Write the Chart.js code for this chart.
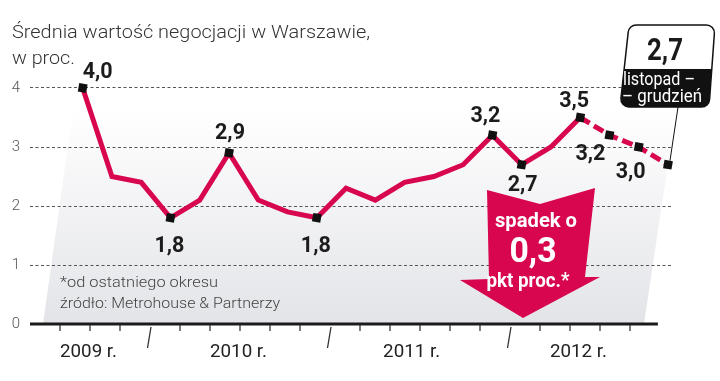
<!DOCTYPE html>
<html><head><meta charset="utf-8">
<script src="https://cdn.jsdelivr.net/npm/chart.js@4/dist/chart.umd.min.js"></script>
<style>html,body{margin:0;padding:0;background:#fff}#wrap{width:720px;height:381px;position:relative}</style>
</head><body><div id="wrap"><canvas id="c"></canvas></div>
<script>
// ---- data ----
const periods = ['VII–VIII 2009','IX–X 2009','XI–XII 2009',
  'I–II 2010','III–IV 2010','V–VI 2010','VII–VIII 2010','IX–X 2010','XI–XII 2010',
  'I–II 2011','III–IV 2011','V–VI 2011','VII–VIII 2011','IX–X 2011','XI–XII 2011',
  'I–II 2012','III–IV 2012','V–VI 2012','VII–VIII 2012','IX–X 2012','XI–XII 2012'];
const values = [4.0,2.5,2.4,1.8,2.1,2.9,2.1,1.9,1.8,2.3,2.1,2.4,2.5,2.7,3.2,2.7,3.0,3.5,3.2,3.0,2.7];
const yearLabels = ['2009 r.','2010 r.','2011 r.','2012 r.'];
const yTickValues = [0,1,2,3,4];
const markedIdx = [0,3,5,8,14,15,17,18,19,20];
const dashedFrom = 17;
const lastPeriodText = ['listopad –','– grudzień'];
const arrowText = ['spadek o','0,3','pkt proc.*'];
const titleLines = ['Średnia wartość negocjacji w Warszawie,','w proc.'];
const noteLines = ['*od ostatniego okresu','źródło: Metrohouse & Partnerzy'];

// ---- layout / style ----
const RED = '#d8064f';
const LABEL_OFFSETS = {0:[15,-10],3:[-1,34],5:[1,-14],8:[-1,34],14:[-7,-13],15:[1,26],17:[-6,-11],18:[-19,25],19:[-8,31]};
const YEAR_LEFT_K = [0,5,10.77,16.33]; // left edge of year labels in bimonthly-tick units
const YEAR_TICK_K = [3,9,15];

function txt(ctx,s,x,y,font,color,align,w){
  ctx.save();ctx.font=font;ctx.fillStyle=color;ctx.textBaseline='alphabetic';ctx.textAlign='left';
  const mw=ctx.measureText(s).width;const sx=w?w/mw:1;
  const x0=align==='center'?x-mw*sx/2:align==='right'?x-mw*sx:x;
  ctx.translate(x0,y);ctx.scale(sx,1);ctx.fillText(s,0,0);ctx.restore();
}
function roundPoly(ctx,pts,r){
  ctx.beginPath();const n=pts.length;
  ctx.moveTo((pts[0][0]+pts[1][0])/2,(pts[0][1]+pts[1][1])/2);
  for(let i=1;i<=n;i++){const p=pts[i%n],q=pts[(i+1)%n];ctx.arcTo(p[0],p[1],q[0],q[1],r);}
  ctx.closePath();
}

const decor = {
  id:'decor',
  beforeDraw(chart){
    const ctx=chart.ctx, y=chart.scales.y;
    ctx.save();
    ctx.fillStyle='#fff';ctx.fillRect(0,0,chart.width,chart.height);
    const yb=y.getPixelForValue(0), yt=110, s=0.15;
    const g=ctx.createLinearGradient(0,yb,0,yt);
    g.addColorStop(0,'#e3e4e8');g.addColorStop(1,'rgba(255,255,255,1)');
    ctx.fillStyle=g;ctx.beginPath();
    ctx.moveTo(43,yb);ctx.lineTo(644,yb);ctx.lineTo(644+(yb-yt)*s,yt);ctx.lineTo(43+(yb-yt)*0.14,yt);ctx.closePath();ctx.fill();
    ctx.restore();
  },
  beforeDatasetsDraw(chart){
    const ctx=chart.ctx, y=chart.scales.y, m=chart.scales.m, a=chart.chartArea;
    txt(ctx,titleLines[0],12,38,'300 19px Roboto','#333','left',358);
    txt(ctx,titleLines[1],12,64,'300 19px Roboto','#333','left',63);
    yTickValues.forEach(v=>{
      ctx.save();ctx.font='300 15px Roboto';ctx.fillStyle='#555';ctx.textAlign='center';ctx.textBaseline='middle';
      ctx.fillText(String(v),16,y.getPixelForValue(v));ctx.restore();
    });
    txt(ctx,noteLines[0],60,287,'300 15px Roboto','#444','left',158);
    txt(ctx,noteLines[1],60,308,'300 15px Roboto','#444','left',220);
    const y0=y.getPixelForValue(0);
    ctx.save();
    ctx.strokeStyle='#1a1a1a';ctx.lineWidth=3;ctx.beginPath();ctx.moveTo(a.left,y0);ctx.lineTo(m.getPixelForValue(19.93),y0);ctx.stroke();
    ctx.lineWidth=1.3;ctx.strokeStyle='#333';
    for(let k=0;k<20;k++){
      const x=m.getPixelForValue(k);ctx.beginPath();
      if(YEAR_TICK_K.includes(k)){ctx.moveTo(x+1,y0+3);ctx.lineTo(x-2.5,y0+24);}
      else{ctx.moveTo(x,y0+1);ctx.lineTo(x,y0+7);}
      ctx.stroke();
    }
    ctx.restore();
    yearLabels.forEach((t,i)=>txt(ctx,t,m.getPixelForValue(YEAR_LEFT_K[i]),357,'400 19px Roboto','#222','left',57));
  },
  afterDatasetsDraw(chart){
    const ctx=chart.ctx, meta=chart.getDatasetMeta(0);
    ctx.save();ctx.fillStyle=RED;ctx.beginPath();
    [[487,190],[540,204],[595,188],[585,277],[600,277],[523,318],[460,280],[489,279]].forEach((p,i)=>i?ctx.lineTo(p[0],p[1]):ctx.moveTo(p[0],p[1]));
    ctx.closePath();ctx.fill();ctx.restore();
    txt(ctx,arrowText[0],536,227,'700 20px Roboto','#fff','center',82);
    txt(ctx,arrowText[1],533,262,'700 35px Roboto','#fff','center',47);
    txt(ctx,arrowText[2],528,287,'700 20px Roboto','#fff','center',83);
    Object.keys(LABEL_OFFSETS).forEach(k=>{
      const i=+k, el=meta.data[i], off=LABEL_OFFSETS[k];
      txt(ctx,values[i].toFixed(1).replace('.',','),el.x+off[0],el.y+off[1],'700 22px Roboto','#1c1c1c','center',30);
    });
    const last=meta.data[values.length-1];
    ctx.save();ctx.strokeStyle='#111';ctx.lineWidth=1;ctx.beginPath();ctx.moveTo(678,107);ctx.lineTo(last.x+2,last.y-4);ctx.stroke();
    const box=[[629,25],[715,25],[709,107],[620,107]];
    roundPoly(ctx,box,8);ctx.save();ctx.clip();ctx.fillStyle='#fff';ctx.fillRect(600,20,120,95);
    ctx.fillStyle='#111';ctx.fillRect(600,69,120,45);ctx.restore();
    roundPoly(ctx,box,8);ctx.lineWidth=1.5;ctx.strokeStyle='#111';ctx.stroke();ctx.restore();
    txt(ctx,values[values.length-1].toFixed(1).replace('.',','),665,60,'700 31px Roboto','#1a1a1a','center',36);
    txt(ctx,lastPeriodText[0],623,85,'400 18px Roboto','#fff','left',72);
    txt(ctx,lastPeriodText[1],622,102,'400 18px Roboto','#fff','left',80);
  }
};

new Chart(document.getElementById('c'),{
  type:'line',
  data:{labels:periods,datasets:[{
    data:values.map((v,i)=>({x:i,y:v})),
    borderColor:RED,borderWidth:5,tension:0,fill:false,clip:false,
    borderJoinStyle:'miter',borderCapStyle:'butt',
    pointStyle:'rect',pointRotation:10,
    pointRadius:values.map((v,i)=>markedIdx.includes(i)?6:0),
    pointBackgroundColor:'#111',pointBorderWidth:0,
    segment:{borderDash:c=>c.p0DataIndex>=dashedFrom?[11,5]:undefined}
  }]},
  options:{
    responsive:true,maintainAspectRatio:false,animation:false,events:[],devicePixelRatio:1,
    layout:{padding:{left:30,right:48,top:29,bottom:57}},
    plugins:{legend:{display:false},tooltip:{enabled:false}},
    scales:{
      x:{type:'linear',min:-1.8,max:20.137,display:false},
      m:{type:'linear',axis:'x',position:'bottom',min:-1,max:20.4,display:false},
      y:{min:0,max:5,display:true,ticks:{display:false,stepSize:1},
        grid:{drawTicks:false,lineWidth:1,color:c=>(c.tick&&c.tick.value>=1&&c.tick.value<=4)?'#555':'rgba(0,0,0,0)'},
        border:{display:false,dash:[3,2.5]}}
    }
  },
  plugins:[decor]
});
</script></body></html>
